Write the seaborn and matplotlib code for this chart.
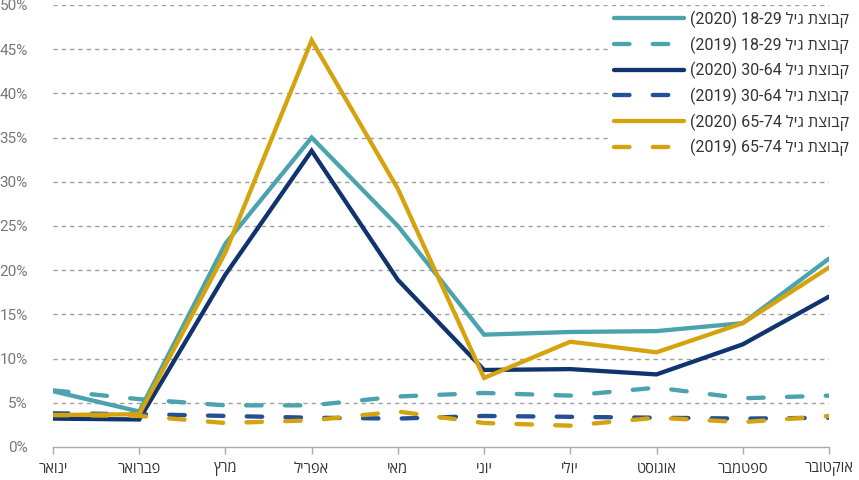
import matplotlib
matplotlib.use("Agg")
import matplotlib.pyplot as plt
import seaborn as sns
import pandas as pd

# Months (Hebrew, logical order)
months = ["ינואר", "פברואר", "מרץ", "אפריל", "מאי", "יוני", "יולי", "אוגוסט", "ספטמבר", "אוקטובר"]

# Share of unemployed by age group, percent
age_18_29_2020 = [6.3, 4.0, 23.0, 35.0, 25.0, 12.7, 13.0, 13.1, 14.0, 21.3]
age_18_29_2019 = [6.4, 5.4, 4.7, 4.7, 5.7, 6.1, 5.8, 6.7, 5.5, 5.8]
age_30_64_2020 = [3.2, 3.1, 19.5, 33.5, 18.9, 8.7, 8.8, 8.2, 11.6, 17.0]
age_30_64_2019 = [3.8, 3.7, 3.5, 3.3, 3.2, 3.5, 3.4, 3.3, 3.2, 3.3]
age_65_74_2020 = [3.6, 3.7, 22.0, 46.0, 29.2, 7.8, 11.9, 10.7, 14.0, 20.3]
age_65_74_2019 = [3.6, 3.5, 2.7, 3.0, 4.0, 2.7, 2.4, 3.3, 2.8, 3.5]

series_labels = [
    "קבוצת גיל 18-29 (2020)",
    "קבוצת גיל 18-29 (2019)",
    "קבוצת גיל 30-64 (2020)",
    "קבוצת גיל 30-64 (2019)",
    "קבוצת גיל 65-74 (2020)",
    "קבוצת גיל 65-74 (2019)",
]
yticks = list(range(0, 51, 5))


def visual(text):
    """Reorder right-to-left text for a left-to-right renderer."""
    out = []
    for word in reversed(text.split(" ")):
        if any("\u0590" <= ch <= "\u05ff" for ch in word):
            word = word[::-1]
        out.append(word)
    return " ".join(out)


series = [
    (age_18_29_2020, "#4aa3ad", "solid"),
    (age_18_29_2019, "#4aa3ad", "dashed"),
    (age_30_64_2020, "#10346e", "solid"),
    (age_30_64_2019, "#254f94", "dashed"),
    (age_65_74_2020, "#d5a30e", "solid"),
    (age_65_74_2019, "#d5a30e", "dashed"),
]

sns.set_theme(style="white")
plt.rcParams["font.family"] = ["Roboto", "Open Sans", "DejaVu Sans"]

fig = plt.figure(figsize=(8.59, 4.8), dpi=100)
ax = fig.add_axes([0.0617, 0.069, 0.9033, 0.9206])

x_pos = list(range(len(months)))
for (vals, color, kind), label in zip(series, series_labels):
    df = pd.DataFrame({"x": x_pos, "y": vals})
    sns.lineplot(data=df, x="x", y="y", ax=ax, color=color, lw=3.1,
                 label=visual(label), zorder=3)
    l = ax.get_lines()[-1]
    l.set_solid_capstyle("round")
    l.set_solid_joinstyle("miter")
    if kind == "dashed":
        l.set_dashes([3.6, 5.4])
        l.set_dash_capstyle("round")

ax.set_xlim(0, len(months) - 1)
ax.set_ylim(0, 50)
ax.set_xticks(x_pos)
ax.set_xticklabels([visual(m) for m in months], fontsize=10.5, color="#333333")
ax.set_yticks(yticks)
ax.set_yticklabels([f"{v}%" for v in yticks], fontsize=11, color="#777777")
ax.set_xlabel("")
ax.set_ylabel("")

for v in yticks[1:]:
    ax.axhline(v, color="#9e9e9e", lw=1.0, ls=(0, (3, 3)), zorder=1)

for side in ["top", "right", "left"]:
    ax.spines[side].set_visible(False)
ax.spines["bottom"].set_color("#aaaaaa")
ax.spines["bottom"].set_linewidth(1.0)
ax.tick_params(axis="x", which="both", bottom=True, length=5, width=1.0,
               color="#aaaaaa", pad=6)
ax.tick_params(axis="y", length=0, pad=18)

leg = ax.legend(loc="upper right", bbox_to_anchor=(1.03, 0.995), frameon=True,
                fontsize=11.5, handlelength=4.4, handletextpad=0.35,
                labelspacing=0.52, borderpad=0.2, borderaxespad=0)
leg.get_frame().set_facecolor("white")
leg.get_frame().set_edgecolor("white")
leg.get_frame().set_alpha(1.0)
leg.set_zorder(5)
for t in leg.get_texts():
    t.set_color("#333333")

fig.savefig("out.png", dpi=100)
